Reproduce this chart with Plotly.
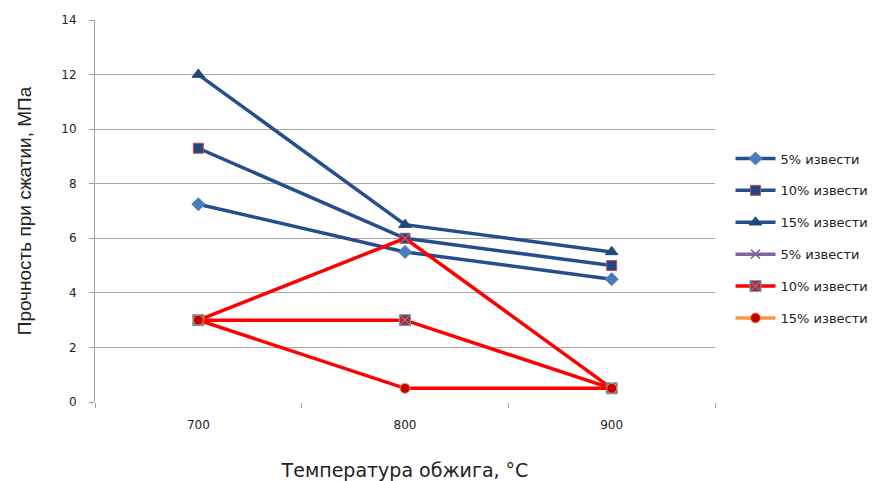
import plotly.graph_objects as go

# Firing temperature categories (°C)
temps = ["700", "800", "900"]

# Compressive strength, MPa
lime5_a = [7.25, 5.5, 4.5]
lime10_a = [9.3, 6.0, 5.0]
lime15_a = [12.0, 6.5, 5.5]
lime5_b = [3.0, 6.0, 0.5]
lime10_b = [3.0, 3.0, 0.5]
lime15_b = [3.0, 0.5, 0.5]

series_names = ["5% извести", "10% извести", "15% извести",
                "5% извести", "10% извести", "15% извести"]

BLUE = "#254F8C"
RED = "#FF0000"

styles = [
    dict(line=BLUE, legline=BLUE, symbol="diamond", size=10, fill="#4A7EBB", edge="#4A7EBB"),
    dict(line=BLUE, legline=BLUE, symbol="square", size=10, fill="#1F497D", edge="#C0504D"),
    dict(line=BLUE, legline=BLUE, symbol="triangle-up", size=11, fill="#1F497D", edge="#1F497D"),
    dict(line=RED, legline="#8064A2", symbol="x-thin", size=9, fill="#8064A2", edge="#8064A2"),
    dict(line=RED, legline=RED, symbol="square-x", size=11, fill="#C0282D", edge="#4BACC6"),
    dict(line=RED, legline="#F79646", symbol="circle", size=10, fill="#C00000", edge="#F79646"),
]

data = [lime5_a, lime10_a, lime15_a, lime5_b, lime10_b, lime15_b]


def marker_for(st):
    return dict(symbol=st["symbol"], size=st["size"], color=st["fill"],
                line=dict(color=st["edge"], width=1.5 if st["symbol"] == "x-thin" else 1))


fig = go.Figure()

for vals, name, st in zip(data, series_names, styles):
    fig.add_trace(go.Scatter(
        x=temps, y=vals, mode="lines+markers", name=name,
        line=dict(color=st["line"], width=3.5),
        marker=marker_for(st), showlegend=False,
    ))

# Legend entries (the lower series keep their own legend colours)
for i, (name, st) in enumerate(zip(series_names, styles)):
    fig.add_trace(go.Scatter(
        x=[None], y=[None], mode="lines+markers", name=name,
        line=dict(color=st["legline"], width=3.5),
        marker=marker_for(st), legendgroup=f"g{i}", showlegend=True,
    ))

TEXT = "#222222"

fig.update_layout(
    width=882, height=481,
    margin=dict(l=95, r=167, t=20, b=79, autoexpand=False),
    paper_bgcolor="white", plot_bgcolor="white",
    font=dict(family="Liberation Sans, Arial, sans-serif", color=TEXT, size=12),
    legend=dict(
        x=1.025, y=0.428, xanchor="left", yanchor="middle",
        font=dict(family="DejaVu Sans, sans-serif", size=13, color=TEXT),
        tracegroupgap=12, itemwidth=40,
        bgcolor="rgba(0,0,0,0)",
    ),
)

fig.update_xaxes(
    type="category", range=[-0.5, 2.5], automargin=False,
    tickson="boundaries", ticks="outside", ticklen=5, tickcolor="#A0A0A0",
    showgrid=False, showline=False, zeroline=False,
    tickfont=dict(family="DejaVu Sans, sans-serif", size=12, color=TEXT),
    ticklabelstandoff=14,
    title=dict(text="Температура обжига, °С",
               font=dict(family="DejaVu Sans, sans-serif", size=19, color=TEXT),
               standoff=34),
)

fig.update_yaxes(
    range=[0, 14], dtick=2, tick0=0, automargin=False,
    showgrid=True, gridcolor="#A6A6A6", gridwidth=1,
    showline=True, linecolor="#A0A0A0", linewidth=1,
    ticks="outside", ticklen=5, tickcolor="#A0A0A0",
    zeroline=False,
    tickfont=dict(family="DejaVu Sans, sans-serif", size=12, color=TEXT),
    ticklabelstandoff=10,
    title=dict(text="Прочность при сжатии, МПа",
               font=dict(family="Liberation Sans, Arial, sans-serif", size=19, color=TEXT),
               standoff=24),
)

fig.write_html("out.html")
